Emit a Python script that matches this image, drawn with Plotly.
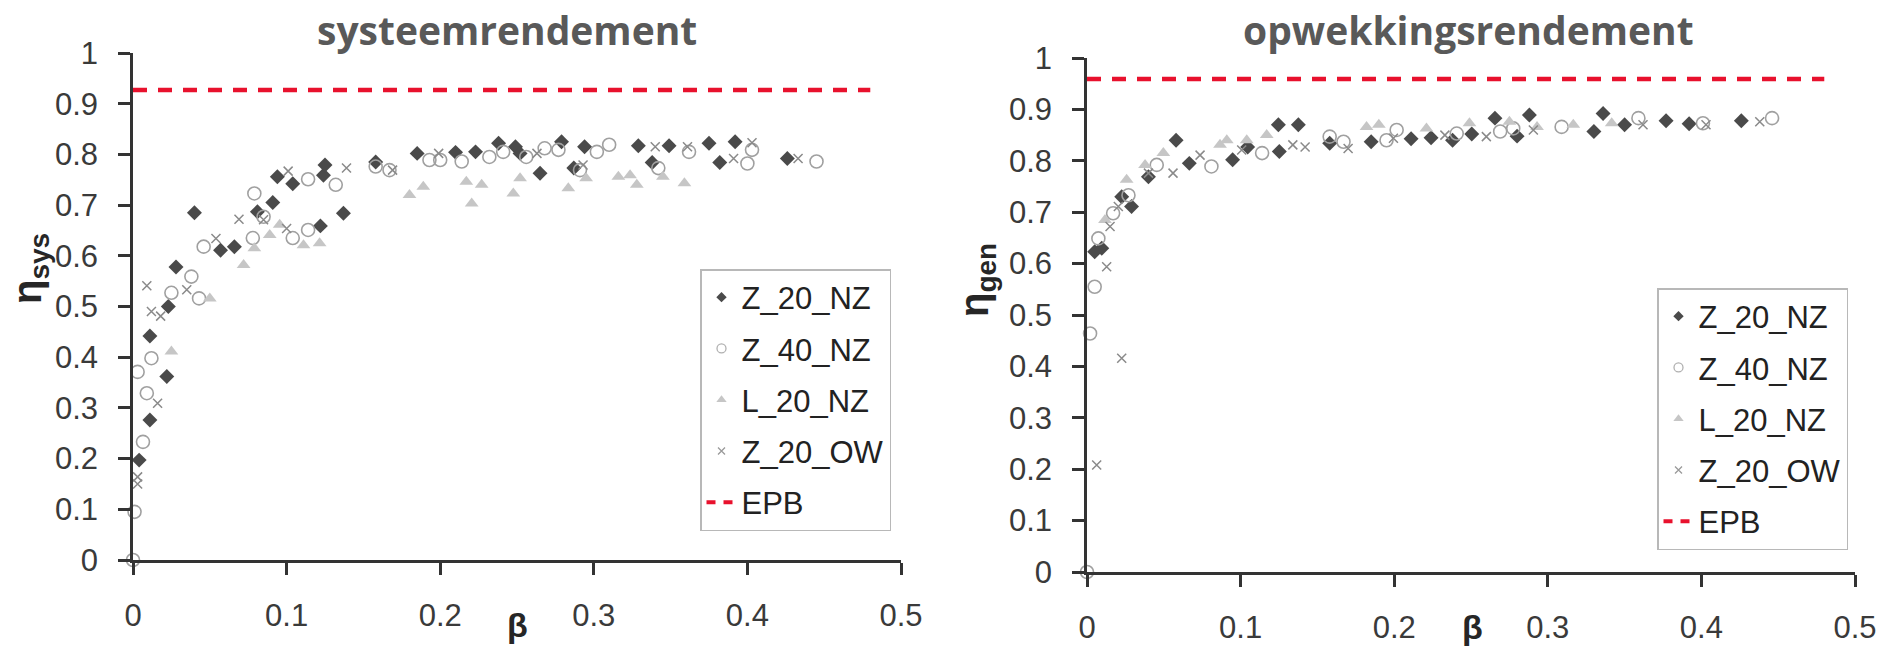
import plotly.graph_objects as go

# ---------------- data: systeemrendement (left) ----------------
sys_z20nz_b = [0.004,0.011,0.011,0.022,0.023,0.028,0.040,0.057,0.066,0.081,0.091,0.094,0.104,0.122,0.124,0.125,0.137,0.158,0.185,0.210,
               0.223,0.238,0.249,0.252,0.265,0.279,0.287,0.294,0.329,0.338,0.349,0.375,0.382,0.392,0.426]
sys_z20nz_e = [0.197,0.276,0.442,0.362,0.500,0.578,0.685,0.611,0.618,0.687,0.705,0.756,0.742,0.659,0.759,0.779,0.684,0.785,0.802,0.804,
               0.805,0.822,0.815,0.802,0.763,0.825,0.773,0.815,0.817,0.784,0.817,0.822,0.784,0.825,0.792]

sys_z40nz_b = [0.0,0.001,0.003,0.0065,0.009,0.012,0.025,0.038,0.043,0.046,0.078,0.079,0.085,0.104,0.114,0.114,0.132,0.158,0.167,0.193,
               0.200,0.214,0.232,0.241,0.256,0.268,0.277,0.291,0.302,0.310,0.342,0.362,0.400,0.403,0.445]
sys_z40nz_e = [0.0,0.095,0.371,0.233,0.329,0.398,0.527,0.559,0.516,0.618,0.635,0.723,0.677,0.635,0.651,0.751,0.740,0.776,0.769,0.789,
               0.789,0.786,0.795,0.805,0.795,0.812,0.809,0.769,0.805,0.819,0.773,0.805,0.782,0.809,0.786]

sys_l20nz_b = [0.025,0.050,0.072,0.079,0.089,0.0955,0.111,0.1215,0.180,0.189,0.217,0.2205,0.227,0.2476,0.252,0.2834,0.295,0.316,0.3236,0.328,0.345,0.359]
sys_l20nz_e = [0.411,0.516,0.582,0.615,0.641,0.661,0.621,0.625,0.720,0.736,0.746,0.703,0.740,0.723,0.753,0.733,0.753,0.756,0.759,0.740,0.756,0.743]

sys_z20ow_b = [0.003,0.003,0.009,0.012,0.016,0.018,0.035,0.054,0.069,0.085,0.100,0.101,0.139,0.169,0.199,0.263,0.293,0.340,0.361,0.391,0.403,0.433]
sys_z20ow_e = [0.150,0.164,0.541,0.490,0.309,0.481,0.533,0.634,0.672,0.671,0.654,0.767,0.773,0.769,0.802,0.802,0.779,0.815,0.815,0.792,0.823,0.792]

# ---------------- data: opwekkingsrendement (right) ----------------
gen_z20nz_b = [0.005,0.0096,0.0226,0.029,0.040,0.058,0.0666,0.0948,0.1046,0.1246,0.1252,0.1376,0.158,0.185,0.211,0.224,0.238,0.2505,
               0.2656,0.280,0.288,0.330,0.336,0.350,0.377,0.392,0.426]
gen_z20nz_e = [0.623,0.630,0.730,0.711,0.769,0.840,0.795,0.802,0.827,0.870,0.818,0.870,0.834,0.837,0.843,0.845,0.840,0.852,
               0.883,0.848,0.889,0.857,0.892,0.870,0.878,0.872,0.878]

gen_z40nz_b = [0.0,0.002,0.005,0.0074,0.017,0.027,0.0454,0.081,0.114,0.158,0.167,0.195,0.2016,0.2407,0.269,0.2775,0.309,0.359,0.401,0.446]
gen_z40nz_e = [0.0,0.464,0.555,0.649,0.698,0.733,0.792,0.789,0.815,0.847,0.837,0.840,0.860,0.853,0.857,0.863,0.866,0.883,0.873,0.883]

gen_l20nz_b = [0.0117,0.0258,0.0378,0.0497,0.0866,0.091,0.104,0.117,0.182,0.190,0.221,0.249,0.275,0.293,0.3166,0.3416]
gen_l20nz_e = [0.685,0.763,0.792,0.815,0.831,0.840,0.840,0.850,0.866,0.870,0.863,0.873,0.876,0.866,0.870,0.873]

gen_z20ow_b = [0.0063,0.0128,0.015,0.0204,0.0226,0.040,0.056,0.0736,0.1007,0.134,0.142,0.170,0.1995,0.233,0.260,0.2906,0.362,0.403,0.438]
gen_z20ow_e = [0.208,0.594,0.672,0.711,0.416,0.776,0.776,0.811,0.821,0.831,0.827,0.824,0.844,0.850,0.847,0.860,0.870,0.870,0.876]

epb_x = [0.0, 0.48]
epb_sys = 0.927
epb_gen = 0.959

series_names = ["Z_20_NZ", "Z_40_NZ", "L_20_NZ", "Z_20_OW", "EPB"]
x_ticks = [0, 0.1, 0.2, 0.3, 0.4, 0.5]
x_ticklabels = ["0", "0.1", "0.2", "0.3", "0.4", "0.5"]
y_ticks = [0, 0.1, 0.2, 0.3, 0.4, 0.5, 0.6, 0.7, 0.8, 0.9, 1]
y_ticklabels = ["0", "0.1", "0.2", "0.3", "0.4", "0.5", "0.6", "0.7", "0.8", "0.9", "1"]

# ---------------- styles ----------------
RED = "#e8112d"
styles = [
    dict(symbol="diamond", size=11.5, color="#4a4a4a", line=dict(width=0)),
    dict(symbol="circle-open", size=13, color="#a0a0a0", line=dict(width=1.6, color="#a0a0a0")),
    dict(symbol="triangle-up", size=12, color="#c6c6c6", line=dict(width=0)),
    dict(symbol="x-thin", size=9, color="#8a8a8a", line=dict(width=1.5, color="#8a8a8a")),
]
leg_styles = [
    dict(symbol="diamond", size=8, color="#4a4a4a", line=dict(width=0)),
    dict(symbol="circle-open", size=9, color="#b0b0b0", line=dict(width=1.3, color="#b0b0b0")),
    dict(symbol="triangle-up", size=9, color="#c6c6c6", line=dict(width=0)),
    dict(symbol="x-thin", size=7, color="#9a9a9a", line=dict(width=1.3, color="#9a9a9a")),
]

fig = go.Figure()

panels = [
    ("x", "y", "legend", [(sys_z20nz_b, sys_z20nz_e), (sys_z40nz_b, sys_z40nz_e), (sys_l20nz_b, sys_l20nz_e), (sys_z20ow_b, sys_z20ow_e)], epb_sys),
    ("x2", "y2", "legend2", [(gen_z20nz_b, gen_z20nz_e), (gen_z40nz_b, gen_z40nz_e), (gen_l20nz_b, gen_l20nz_e), (gen_z20ow_b, gen_z20ow_e)], epb_gen),
]

for xa, ya, leg, data, epb in panels:
    for i, (bx, ey) in enumerate(data):
        fig.add_trace(go.Scatter(x=bx, y=ey, mode="markers", marker=styles[i], xaxis=xa, yaxis=ya,
                                 showlegend=False, cliponaxis=False, name=series_names[i]))
    fig.add_trace(go.Scatter(x=epb_x, y=[epb, epb], mode="lines", xaxis=xa, yaxis=ya,
                             line=dict(color=RED, width=4.5, dash="14px,11px"), showlegend=False,
                             cliponaxis=False, name="EPB"))
    # legend entries
    for i in range(4):
        fig.add_trace(go.Scatter(x=[None], y=[None], mode="markers", marker=leg_styles[i], xaxis=xa, yaxis=ya,
                                 name=series_names[i], legend=leg, legendgroup=leg + str(i), showlegend=True))
    fig.add_trace(go.Scatter(x=[None], y=[None], mode="lines", xaxis=xa, yaxis=ya,
                             line=dict(color=RED, width=4, dash="9px,8px"), name="EPB",
                             legend=leg, legendgroup=leg + "4", showlegend=True))

W, H = 1893, 649
def px_x(p): return p / W
def px_y(p): return 1 - p / H

axis_common = dict(showline=True, linecolor="#333333", linewidth=2.5, ticks="outside", ticklen=12,
                   tickwidth=2.5, tickcolor="#333333", showgrid=False, zeroline=False, automargin=False,
                   tickfont=dict(family="Arial", size=31, color="#3a3a3a"))

leg_common = dict(xanchor="left", yanchor="top", bgcolor="white",
                  bordercolor="#b8b8b8", borderwidth=1.5, font=dict(family="Arial", size=31, color="#222222"),
                  tracegroupgap=8, traceorder="grouped", itemsizing="trace")

fig.update_layout(
    width=W, height=H, margin=dict(l=0, r=0, t=0, b=0, autoexpand=False),
    paper_bgcolor="white", plot_bgcolor="white",
    xaxis=dict(domain=[px_x(133), px_x(901)], range=[0, 0.5], tickvals=x_ticks, ticktext=x_ticklabels,
               anchor="y", ticklabelstandoff=14, **axis_common),
    yaxis=dict(domain=[px_y(560), px_y(53)], range=[0, 1], tickvals=y_ticks, ticktext=y_ticklabels,
               anchor="x", ticklabelstandoff=14, **axis_common),
    xaxis2=dict(domain=[px_x(1087), px_x(1855)], range=[0, 0.5], tickvals=x_ticks, ticktext=x_ticklabels,
                anchor="y2", ticklabelstandoff=14, **axis_common),
    yaxis2=dict(domain=[px_y(572), px_y(58)], range=[0, 1], tickvals=y_ticks, ticktext=y_ticklabels,
                anchor="x2", ticklabelstandoff=14, **axis_common),
    legend=dict(x=px_x(700), y=px_y(269), **leg_common),
    legend2=dict(x=px_x(1657), y=px_y(288), **leg_common),
    showlegend=True,
)

title_font = dict(family="Open Sans", size=39, color="#595959")
fig.add_annotation(text="<b>systeemrendement</b>", x=px_x(507), y=px_y(30), xref="paper", yref="paper",
                   showarrow=False, xanchor="center", yanchor="middle", font=title_font)
fig.add_annotation(text="<b>opwekkingsrendement</b>", x=px_x(1468), y=px_y(30), xref="paper", yref="paper",
                   showarrow=False, xanchor="center", yanchor="middle", font=title_font)

lab_font = dict(family="Arial", size=34, color="#262626")
fig.add_annotation(text="<b>β</b>", x=px_x(517), y=px_y(625), xref="paper", yref="paper",
                   showarrow=False, xanchor="center", yanchor="middle", font=lab_font)
fig.add_annotation(text="<b>β</b>", x=px_x(1472), y=px_y(627), xref="paper", yref="paper",
                   showarrow=False, xanchor="center", yanchor="middle", font=lab_font)
fig.add_annotation(text="<b>η<sub>sys</sub></b>", x=px_x(30), y=px_y(269), xref="paper", yref="paper",
                   showarrow=False, xanchor="center", yanchor="middle", textangle=-90,
                   font=dict(family="Arial", size=40, color="#262626"))
fig.add_annotation(text="<b>η<sub>gen</sub></b>", x=px_x(977), y=px_y(280), xref="paper", yref="paper",
                   showarrow=False, xanchor="center", yanchor="middle", textangle=-90,
                   font=dict(family="Arial", size=40, color="#262626"))

fig.write_html("out.html")
